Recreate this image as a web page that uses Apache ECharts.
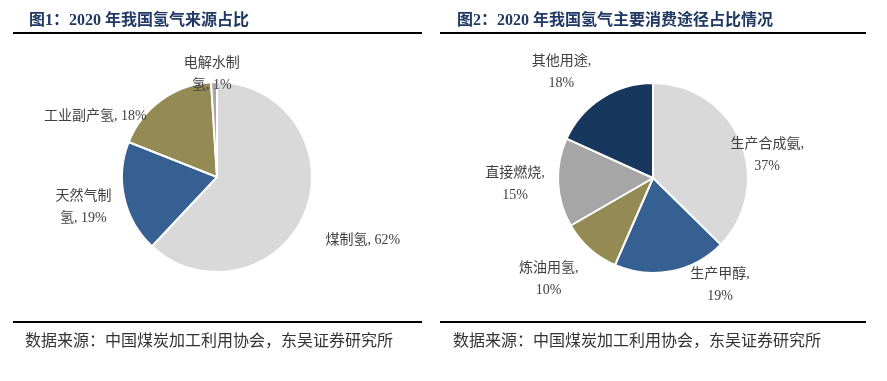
<!DOCTYPE html>
<html><head><meta charset="utf-8">
<script src="https://cdn.jsdelivr.net/npm/echarts@6/dist/echarts.min.js"></script>
<style>html,body{margin:0;padding:0;background:#fff}#c{width:887px;height:381px}</style>
</head><body><div id="c"></div>
<script>
const titles = ['图1：2020 年我国氢气来源占比', '图2：2020 年我国氢气主要消费途径占比情况'];
const sourceText = '数据来源：中国煤炭加工利用协会，东吴证券研究所';
const srcNames = ['煤制氢', '天然气制\n氢', '工业副产氢', '电解水制\n氢'];
const srcValues = [62, 19, 18, 1];
const useNames = ['生产合成氨,\n', '生产甲醇,\n', '炼油用氢,\n', '直接燃烧,\n', '其他用途,\n'];
const useValues = [37, 19, 10, 15, 18];
const srcColors = ['#d9d9d9', '#376092', '#948a54', '#a6a6a6'];
const useColors = ['#d9d9d9', '#376092', '#948a54', '#a6a6a6', '#17375e'];
// label nudges (layout only)
const labelNudge = [
  [[43, 26], [-31, 8], [-41, 5], [7, -2]],
  [[12, 16], [39, 8], [-28, 26], [-28, 2], [-28, -21]]
];

const FONT = '"Liberation Serif","Noto Sans CJK SC",serif';
const chart = echarts.init(document.getElementById('c'));
function pieData(names, vals, colors) {
  return names.map((n, i) => ({ name: n, value: vals[i], itemStyle: { color: colors[i] } }));
}
const labelStyle = { position: 'outside', fontFamily: FONT, fontSize: 14, color: '#404040', lineHeight: 22 };
chart.setOption({
  animation: false,
  title: [
    { text: titles[0], left: 24, top: 8, textStyle: { fontFamily: FONT, fontSize: 16, fontWeight: 'bold', color: '#1f3864' } },
    { text: titles[1], left: 452, top: 8, textStyle: { fontFamily: FONT, fontSize: 16, fontWeight: 'bold', color: '#1f3864' } },
    { text: sourceText, left: 20, top: 329, textStyle: { fontFamily: FONT, fontSize: 16, fontWeight: 'normal', color: '#333' } },
    { text: sourceText, left: 448, top: 329, textStyle: { fontFamily: FONT, fontSize: 16, fontWeight: 'normal', color: '#333' } }
  ],
  graphic: [
    { type: 'rect', shape: { x: 13, y: 32, width: 409, height: 2 }, style: { fill: '#000' } },
    { type: 'rect', shape: { x: 440, y: 32, width: 426, height: 2 }, style: { fill: '#000' } },
    { type: 'rect', shape: { x: 13, y: 321, width: 409, height: 2 }, style: { fill: '#000' } },
    { type: 'rect', shape: { x: 440, y: 321, width: 426, height: 2 }, style: { fill: '#000' } }
  ],
  series: [
    {
      type: 'pie', center: [217, 177], radius: 95, startAngle: 90, clockwise: true,
      itemStyle: { borderColor: '#fff', borderWidth: 2 },
      label: Object.assign({ formatter: '{b}, {c}%' }, labelStyle),
      labelLine: { show: false, length: 6, length2: 4 },
      labelLayout: p => ({ align: 'center', dx: labelNudge[0][p.dataIndex][0], dy: labelNudge[0][p.dataIndex][1] }),
      data: pieData(srcNames, srcValues, srcColors)
    },
    {
      type: 'pie', center: [653, 178], radius: 95, startAngle: 90, clockwise: true,
      itemStyle: { borderColor: '#fff', borderWidth: 2 },
      label: Object.assign({ formatter: '{b}{c}%' }, labelStyle),
      labelLine: { show: false, length: 6, length2: 4 },
      labelLayout: p => ({ align: 'center', dx: labelNudge[1][p.dataIndex][0], dy: labelNudge[1][p.dataIndex][1] }),
      data: pieData(useNames, useValues, useColors)
    }
  ]
});
</script></body></html>
